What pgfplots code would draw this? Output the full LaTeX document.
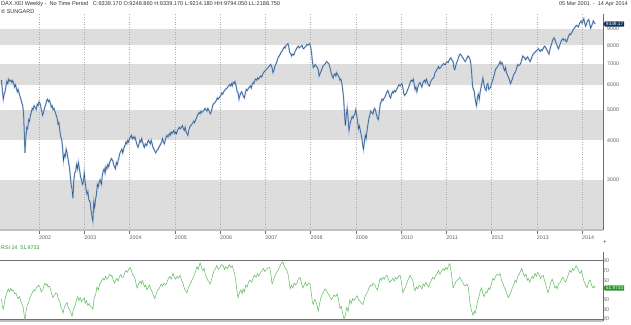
\documentclass[border=0pt]{standalone}
\usepackage{pgfplots}
\pgfplotsset{compat=1.18}
\usepackage{pgfplotstable}
\usepackage{fontspec}
\setmainfont{Liberation Sans}
\usetikzlibrary{shapes.symbols}
\definecolor{band}{RGB}{221,221,221}
\definecolor{pblue}{RGB}{38,82,138}
\definecolor{pblue2}{RGB}{150,178,210}
\definecolor{rsigreen}{RGB}{95,185,95}
\definecolor{axgray}{RGB}{110,110,110}
\definecolor{bargray}{RGB}{192,192,192}
\definecolor{navy}{RGB}{15,50,95}
\definecolor{boxgreen}{RGB}{40,150,40}
\definecolor{lblgray}{RGB}{95,95,95}
\pgfplotstableread{
x y
2001.17 6200
2001.19 5800
2001.21 5400
2001.23 5600
2001.25 5700
2001.27 5950
2001.29 6150
2001.31 6050
2001.33 6250
2001.36 6150
2001.38 6200
2001.40 6100
2001.42 6180
2001.44 6050
2001.46 5900
2001.48 6000
2001.50 5850
2001.52 5700
2001.54 5800
2001.56 5650
2001.58 5500
2001.60 5400
2001.62 5250
2001.64 5150
2001.66 4850
2001.69 3650
2001.71 4100
2001.73 4400
2001.75 4350
2001.77 4650
2001.79 4600
2001.81 4800
2001.83 4900
2001.85 5050
2001.87 5000
2001.89 5150
2001.91 5100
2001.94 5000
2001.96 5200
2001.98 5150
2002.00 5300
2002.02 5250
2002.04 5100
2002.06 4950
2002.08 4800
2002.10 4900
2002.12 5050
2002.15 5200
2002.17 5350
2002.19 5400
2002.21 5300
2002.23 5350
2002.25 5250
2002.27 5100
2002.29 5150
2002.31 5000
2002.33 5050
2002.35 4950
2002.38 4800
2002.40 4700
2002.42 4500
2002.44 4550
2002.46 4300
2002.48 4100
2002.50 4050
2002.52 3800
2002.54 3450
2002.56 3600
2002.58 3550
2002.60 3750
2002.62 3650
2002.64 3500
2002.67 3300
2002.69 3100
2002.71 2900
2002.73 2800
2002.75 2620
2002.77 3000
2002.79 3150
2002.81 3200
2002.83 3350
2002.85 3250
2002.87 3400
2002.90 3200
2002.92 3050
2002.94 3000
2002.96 2900
2002.98 2950
2003.00 3150
2003.02 2950
2003.04 2800
2003.06 2700
2003.08 2750
2003.10 2600
2003.13 2550
2003.15 2400
2003.17 2300
2003.19 2220
2003.21 2550
2003.23 2450
2003.25 2600
2003.27 2700
2003.29 2900
2003.31 2850
2003.33 2950
2003.35 3000
2003.38 2900
2003.40 3100
2003.42 3200
2003.44 3250
2003.46 3150
2003.48 3300
2003.50 3250
2003.52 3350
2003.54 3300
2003.56 3400
2003.58 3450
2003.60 3500
2003.63 3450
2003.65 3350
2003.67 3300
2003.69 3250
2003.71 3400
2003.73 3350
2003.75 3450
2003.77 3550
2003.79 3650
2003.81 3700
2003.83 3750
2003.85 3650
2003.88 3800
2003.90 3850
2003.92 3950
2003.94 3900
2003.96 4000
2003.98 3950
2004.00 4050
2004.02 4100
2004.04 4150
2004.06 4050
2004.08 4100
2004.10 4050
2004.12 4100
2004.15 3950
2004.17 3850
2004.19 3800
2004.21 3900
2004.23 4000
2004.25 3950
2004.27 4050
2004.29 3950
2004.31 3850
2004.33 3800
2004.35 3900
2004.38 3850
2004.40 3950
2004.42 4000
2004.44 3950
2004.46 3900
2004.48 4000
2004.50 3900
2004.52 3800
2004.54 3750
2004.56 3700
2004.58 3650
2004.60 3700
2004.63 3750
2004.65 3800
2004.67 3850
2004.69 3900
2004.71 3950
2004.73 4050
2004.75 3950
2004.77 3900
2004.79 4000
2004.81 4100
2004.83 4150
2004.85 4100
2004.88 4200
2004.90 4150
2004.92 4250
2004.94 4200
2004.96 4250
2004.98 4300
2005.00 4200
2005.02 4250
2005.04 4200
2005.06 4300
2005.08 4350
2005.10 4400
2005.12 4350
2005.15 4400
2005.17 4450
2005.19 4350
2005.21 4300
2005.23 4400
2005.25 4250
2005.27 4200
2005.29 4150
2005.31 4300
2005.33 4400
2005.35 4450
2005.38 4500
2005.40 4550
2005.42 4600
2005.44 4550
2005.46 4650
2005.48 4700
2005.50 4800
2005.52 4850
2005.54 4900
2005.56 4850
2005.58 4950
2005.60 4900
2005.63 4950
2005.65 5000
2005.67 5050
2005.69 5000
2005.71 4950
2005.73 5050
2005.75 5000
2005.77 4900
2005.79 4850
2005.81 4950
2005.83 5100
2005.85 5200
2005.88 5250
2005.90 5300
2005.92 5350
2005.94 5450
2005.96 5400
2005.98 5450
2006.00 5500
2006.02 5550
2006.04 5650
2006.06 5600
2006.08 5700
2006.10 5750
2006.12 5800
2006.15 5850
2006.17 5900
2006.19 5950
2006.21 6000
2006.23 5950
2006.25 6050
2006.27 5950
2006.29 6100
2006.31 6050
2006.33 6150
2006.35 6000
2006.38 5700
2006.40 5650
2006.42 5400
2006.44 5550
2006.46 5650
2006.48 5700
2006.50 5600
2006.52 5500
2006.54 5450
2006.56 5650
2006.58 5800
2006.60 5750
2006.63 5850
2006.65 5900
2006.67 5950
2006.69 5850
2006.71 6000
2006.73 6100
2006.75 6050
2006.77 6200
2006.79 6250
2006.81 6200
2006.83 6300
2006.85 6250
2006.88 6350
2006.90 6400
2006.92 6350
2006.94 6450
2006.96 6550
2006.98 6600
2007.00 6650
2007.02 6700
2007.04 6750
2007.06 6800
2007.08 6850
2007.10 6900
2007.12 6950
2007.15 6800
2007.17 6550
2007.19 6650
2007.21 6850
2007.23 6950
2007.25 7050
2007.27 7200
2007.29 7350
2007.31 7400
2007.33 7500
2007.35 7600
2007.38 7700
2007.40 7800
2007.42 7900
2007.44 7850
2007.46 8000
2007.48 8050
2007.50 8100
2007.52 7900
2007.54 7600
2007.56 7550
2007.58 7400
2007.60 7500
2007.63 7450
2007.65 7600
2007.67 7700
2007.69 7800
2007.71 7900
2007.73 7950
2007.75 7850
2007.77 7900
2007.79 7950
2007.81 8000
2007.83 7850
2007.85 7800
2007.88 7900
2007.90 7950
2007.92 8050
2007.94 8000
2007.96 8050
2007.98 8100
2008.00 7950
2008.02 7650
2008.04 7150
2008.06 6800
2008.08 6850
2008.10 6950
2008.12 6900
2008.15 6800
2008.17 6700
2008.19 6400
2008.21 6500
2008.23 6600
2008.25 6700
2008.27 6850
2008.29 6900
2008.31 6950
2008.33 7000
2008.35 7100
2008.38 7050
2008.40 7000
2008.42 6900
2008.44 6700
2008.46 6500
2008.48 6400
2008.50 6300
2008.52 6450
2008.54 6500
2008.56 6400
2008.58 6550
2008.60 6450
2008.63 6350
2008.65 6200
2008.67 6250
2008.69 6100
2008.71 5800
2008.73 5500
2008.75 4900
2008.77 4450
2008.79 4800
2008.81 5050
2008.83 4700
2008.85 4300
2008.88 4550
2008.90 4650
2008.92 4750
2008.94 4700
2008.96 4800
2008.98 4850
2009.00 5000
2009.02 4800
2009.04 4600
2009.06 4350
2009.08 4450
2009.10 4300
2009.13 4100
2009.15 3900
2009.17 3750
2009.19 3950
2009.21 4150
2009.23 4050
2009.25 4300
2009.27 4500
2009.29 4700
2009.31 4800
2009.33 4950
2009.35 4900
2009.38 4850
2009.40 5000
2009.42 5050
2009.44 4950
2009.46 4800
2009.48 4700
2009.50 4650
2009.52 4900
2009.54 5200
2009.56 5300
2009.58 5400
2009.60 5350
2009.63 5450
2009.65 5500
2009.67 5600
2009.69 5700
2009.71 5750
2009.73 5650
2009.75 5500
2009.77 5450
2009.79 5600
2009.81 5700
2009.83 5650
2009.85 5750
2009.88 5700
2009.90 5800
2009.92 5850
2009.94 5950
2009.96 6000
2009.98 5950
2010.00 6000
2010.02 6050
2010.04 5900
2010.06 5650
2010.08 5550
2010.10 5600
2010.12 5650
2010.15 5800
2010.17 5900
2010.19 6000
2010.21 6150
2010.23 6200
2010.25 6150
2010.27 6250
2010.29 6050
2010.31 5800
2010.33 5900
2010.35 5700
2010.38 5950
2010.40 6050
2010.42 6100
2010.44 6000
2010.46 5900
2010.48 6050
2010.50 6150
2010.52 6200
2010.54 6100
2010.56 6250
2010.58 6150
2010.60 6000
2010.63 5950
2010.65 6100
2010.67 6200
2010.69 6250
2010.71 6300
2010.73 6350
2010.75 6550
2010.77 6600
2010.79 6700
2010.81 6750
2010.83 6850
2010.85 6750
2010.88 6800
2010.90 6900
2010.92 6950
2010.94 7000
2010.96 6950
2010.98 6950
2011.00 7050
2011.02 7100
2011.04 7050
2011.06 7150
2011.08 7250
2011.10 7300
2011.12 7200
2011.15 7100
2011.17 6750
2011.19 6700
2011.21 6900
2011.23 7050
2011.25 7150
2011.27 7300
2011.29 7450
2011.31 7500
2011.33 7450
2011.35 7350
2011.38 7250
2011.40 7150
2011.42 7100
2011.44 7200
2011.46 7300
2011.48 7400
2011.50 7350
2011.52 7250
2011.54 7050
2011.56 6600
2011.58 5950
2011.60 5800
2011.62 5700
2011.63 5500
2011.65 5300
2011.67 5150
2011.69 5500
2011.71 5600
2011.73 5400
2011.75 5700
2011.77 5900
2011.79 6100
2011.81 6300
2011.83 6050
2011.85 5850
2011.88 5750
2011.90 6000
2011.92 6050
2011.94 5800
2011.96 5850
2011.98 5900
2012.00 6050
2012.02 6150
2012.04 6300
2012.06 6450
2012.08 6650
2012.10 6750
2012.12 6800
2012.15 6900
2012.17 7000
2012.19 7100
2012.21 6950
2012.23 7050
2012.25 6950
2012.27 6750
2012.29 6650
2012.31 6800
2012.33 6550
2012.35 6450
2012.38 6300
2012.40 6200
2012.42 6050
2012.44 6150
2012.46 6250
2012.48 6400
2012.50 6500
2012.52 6550
2012.54 6650
2012.56 6800
2012.58 6950
2012.60 6900
2012.63 6950
2012.65 7050
2012.67 7200
2012.69 7400
2012.71 7350
2012.73 7300
2012.75 7200
2012.77 7250
2012.79 7350
2012.81 7300
2012.83 7200
2012.85 7100
2012.88 7250
2012.90 7400
2012.92 7500
2012.94 7550
2012.96 7600
2012.98 7650
2013.00 7700
2013.02 7750
2013.04 7800
2013.06 7700
2013.08 7650
2013.10 7750
2013.12 7700
2013.15 7850
2013.17 7950
2013.19 7900
2013.21 7800
2013.23 7700
2013.25 7600
2013.27 7500
2013.29 7750
2013.31 7950
2013.33 8100
2013.35 8300
2013.38 8450
2013.40 8350
2013.42 8200
2013.44 8050
2013.46 7900
2013.48 7800
2013.50 7950
2013.52 8100
2013.54 8250
2013.56 8350
2013.58 8400
2013.60 8300
2013.63 8350
2013.65 8200
2013.67 8250
2013.69 8450
2013.71 8600
2013.73 8700
2013.75 8650
2013.77 8750
2013.79 8850
2013.81 9000
2013.83 9050
2013.85 9150
2013.88 9250
2013.90 9200
2013.92 9150
2013.94 9350
2013.96 9450
2013.98 9550
2014.00 9400
2014.02 9550
2014.04 9700
2014.06 9400
2014.08 9200
2014.10 9350
2014.12 9550
2014.15 9650
2014.17 9350
2014.19 9050
2014.21 9200
2014.23 9350
2014.25 9550
2014.27 9450
2014.29 9339
}\daxdata
\pgfplotstableread{
x y
2001.17 41
2001.19 33
2001.21 30
2001.24 38
2001.27 44
2001.29 47
2001.32 51
2001.35 48
2001.38 52
2001.40 49
2001.43 50
2001.46 46
2001.49 47
2001.51 44
2001.54 41
2001.57 43
2001.60 38
2001.62 36
2001.65 32
2001.67 25
2001.69 18
2001.71 27
2001.74 34
2001.77 37
2001.80 42
2001.83 45
2001.85 47
2001.88 50
2001.91 49
2001.94 52
2001.96 53
2001.99 55
2002.02 53
2002.05 48
2002.08 50
2002.11 54
2002.13 57
2002.16 55
2002.18 56
2002.20 53
2002.23 54
2002.26 50
2002.28 46
2002.31 42
2002.34 45
2002.37 47
2002.40 46
2002.43 40
2002.46 38
2002.48 33
2002.51 30
2002.53 26
2002.56 32
2002.59 35
2002.62 37
2002.64 33
2002.67 30
2002.70 27
2002.73 23
2002.75 28
2002.78 32
2002.80 34
2002.83 40
2002.86 43
2002.88 39
2002.91 42
2002.94 38
2002.97 40
2003.00 42
2003.02 36
2003.05 39
2003.08 34
2003.11 36
2003.14 33
2003.17 32
2003.19 30
2003.22 42
2003.25 45
2003.28 53
2003.31 50
2003.34 56
2003.37 58
2003.41 62
2003.44 60
2003.47 64
2003.50 61
2003.53 63
2003.56 66
2003.59 64
2003.61 65
2003.64 60
2003.67 57
2003.70 60
2003.72 62
2003.75 59
2003.78 64
2003.81 66
2003.83 63
2003.86 63
2003.89 67
2003.92 70
2003.95 68
2003.98 71
2004.01 73
2004.04 70
2004.07 66
2004.10 64
2004.13 60
2004.15 55
2004.17 52
2004.20 56
2004.23 59
2004.26 56
2004.28 60
2004.30 58
2004.33 53
2004.36 55
2004.38 50
2004.41 52
2004.44 55
2004.47 51
2004.50 48
2004.53 44
2004.56 41
2004.59 46
2004.62 50
2004.65 51
2004.67 53
2004.70 56
2004.73 54
2004.76 57
2004.80 55
2004.83 58
2004.86 62
2004.89 64
2004.92 61
2004.96 67
2004.99 63
2005.02 61
2005.05 64
2005.08 62
2005.12 65
2005.15 60
2005.18 57
2005.21 52
2005.24 49
2005.27 47
2005.30 52
2005.33 55
2005.36 58
2005.38 60
2005.42 64
2005.45 68
2005.49 74
2005.52 71
2005.56 78
2005.59 73
2005.62 70
2005.65 72
2005.67 67
2005.70 63
2005.73 60
2005.76 58
2005.78 56
2005.81 60
2005.84 66
2005.87 70
2005.90 72
2005.93 75
2005.96 71
2006.00 73
2006.03 76
2006.07 75
2006.10 71
2006.13 74
2006.17 72
2006.20 76
2006.24 73
2006.27 75
2006.30 70
2006.33 65
2006.36 55
2006.38 47
2006.40 42
2006.43 47
2006.46 50
2006.49 46
2006.51 51
2006.54 48
2006.57 55
2006.60 53
2006.63 58
2006.66 60
2006.70 58
2006.73 62
2006.76 65
2006.80 63
2006.83 67
2006.86 64
2006.90 68
2006.93 70
2006.96 72
2006.99 69
2007.03 71
2007.07 73
2007.10 73
2007.13 64
2007.15 56
2007.18 60
2007.21 64
2007.25 68
2007.28 70
2007.31 73
2007.34 76
2007.37 78
2007.39 79
2007.42 74
2007.45 72
2007.48 70
2007.50 67
2007.53 58
2007.55 51
2007.58 55
2007.61 52
2007.64 57
2007.67 55
2007.70 57
2007.73 61
2007.77 63
2007.80 57
2007.83 52
2007.86 55
2007.89 58
2007.92 54
2007.96 57
2007.99 56
2008.02 46
2008.04 38
2008.06 35
2008.09 40
2008.12 38
2008.15 33
2008.17 28
2008.20 36
2008.23 42
2008.26 45
2008.29 48
2008.32 51
2008.35 49
2008.39 46
2008.42 44
2008.46 40
2008.49 42
2008.52 45
2008.56 43
2008.59 46
2008.62 40
2008.65 31
2008.68 33
2008.71 26
2008.74 20
2008.77 24
2008.80 32
2008.83 28
2008.87 40
2008.90 36
2008.93 41
2008.96 39
2009.00 42
2009.03 44
2009.06 40
2009.10 38
2009.13 36
2009.16 35
2009.19 41
2009.22 45
2009.25 47
2009.27 49
2009.30 53
2009.33 55
2009.36 54
2009.38 57
2009.42 55
2009.45 52
2009.48 50
2009.51 56
2009.54 62
2009.57 60
2009.60 63
2009.63 61
2009.66 64
2009.69 65
2009.72 61
2009.75 58
2009.79 60
2009.82 62
2009.85 59
2009.88 63
2009.91 61
2009.95 64
2009.98 65
2010.01 58
2010.04 47
2010.07 50
2010.10 53
2010.13 57
2010.16 61
2010.20 65
2010.23 62
2010.26 60
2010.28 54
2010.31 49
2010.34 53
2010.37 51
2010.40 55
2010.42 54
2010.46 51
2010.49 56
2010.52 54
2010.55 58
2010.58 55
2010.61 53
2010.64 57
2010.67 60
2010.70 63
2010.73 61
2010.77 65
2010.80 67
2010.83 70
2010.86 66
2010.89 69
2010.93 72
2010.96 70
2010.99 73
2011.02 71
2011.05 75
2011.08 77
2011.11 68
2011.13 60
2011.15 52
2011.18 55
2011.21 58
2011.24 60
2011.27 61
2011.30 63
2011.33 60
2011.36 58
2011.39 55
2011.42 54
2011.46 56
2011.49 52
2011.52 38
2011.55 30
2011.59 24
2011.62 28
2011.64 26
2011.67 33
2011.70 40
2011.73 44
2011.75 49
2011.78 52
2011.81 46
2011.84 43
2011.87 48
2011.90 47
2011.93 52
2011.96 50
2011.99 55
2012.03 62
2012.06 60
2012.09 64
2012.12 66
2012.16 65
2012.19 67
2012.22 60
2012.25 57
2012.28 53
2012.31 50
2012.34 46
2012.37 42
2012.40 45
2012.43 48
2012.46 52
2012.49 55
2012.52 60
2012.55 58
2012.58 64
2012.61 66
2012.64 69
2012.67 72
2012.70 67
2012.73 64
2012.76 66
2012.79 60
2012.81 62
2012.84 58
2012.87 61
2012.90 64
2012.93 62
2012.96 67
2012.99 64
2013.02 68
2013.05 66
2013.08 62
2013.11 64
2013.14 65
2013.17 60
2013.20 55
2013.23 50
2013.25 47
2013.28 52
2013.31 58
2013.34 61
2013.37 57
2013.40 52
2013.43 54
2013.45 51
2013.48 56
2013.52 58
2013.55 61
2013.58 63
2013.61 60
2013.64 58
2013.67 62
2013.70 66
2013.73 70
2013.76 68
2013.79 72
2013.82 70
2013.85 73
2013.87 75
2013.90 72
2013.93 69
2013.96 67
2013.99 70
2014.02 63
2014.05 58
2014.08 55
2014.11 52
2014.14 57
2014.16 60
2014.18 60
2014.21 55
2014.24 52
2014.27 54
2014.29 52
}\rsidata
\newcommand{\tinyf}{\fontsize{5.3}{6}\selectfont}
\begin{document}
\begin{tikzpicture}
\path[use as bounding box] (0pt,0pt) rectangle (631pt,324pt);
\begin{axis}[
  at={(0pt,310pt)}, anchor=north west, scale only axis,
  width=603pt, height=216pt,
  xmin=2001.138, xmax=2014.464,
  ymode=log, ymin=2080, ymax=10050,
  clip mode=individual,
  axis line style={draw=none},
  xtick={2002,2003,2004,2005,2006,2007,2008,2009,2010,2011,2012,2013,2014},
  xticklabels={2002,2003,2004,2005,2006,2007,2008,2009,2010,2011,2012,2013,2014},
  xtick pos=bottom, tick align=outside,
  major tick length=4pt,
  x tick style={axgray, line width=0.5pt},
  ytick={3000,4000,5000,6000,7000,8000,9000},
  yticklabels={3000,4000,5000,6000,7000,8000,9000},
  yticklabel pos=right,
  y tick style={draw=none},
  minor ytick={},
  xticklabel style={anchor=north west, inner sep=0pt, xshift=0pt, yshift=-2pt, font=\tinyf, text=lblgray},
  yticklabel style={anchor=west, inner sep=0pt, xshift=0pt, font=\tinyf, text=lblgray},
]
\fill[band] (axis cs:2001.138,8000) rectangle (axis cs:2014.464,9000);
\fill[band] (axis cs:2001.138,6000) rectangle (axis cs:2014.464,7000);
\fill[band] (axis cs:2001.138,4000) rectangle (axis cs:2014.464,5000);
\fill[band] (axis cs:2001.138,2080) rectangle (axis cs:2014.464,3000);
\pgfplotsinvokeforeach{2002,2003,2004,2005,2006,2007,2008,2009,2010,2011,2012,2013,2014}{
  \draw[gray!65, dotted, line width=0.5pt] (axis cs:#1,2080) -- (axis cs:#1,10050);
}
\addplot[pblue2, line width=1.6pt, opacity=0.7] table[x=x,y=y] {\daxdata};
\addplot[pblue, line width=0.5pt] table[x=x,y=y] {\daxdata};
\draw[bargray, line width=2.5pt] (rel axis cs:0,0) -- (rel axis cs:1,0);
\draw[axgray, line width=0.8pt] (rel axis cs:1,0) -- (rel axis cs:1,1);
\coordinate (vbox) at (axis cs:2014.464,9339);
\end{axis}
\node[signal, signal to=west, signal pointer angle=110, fill=navy, text=white,
  font=\fontsize{4.8}{5}\selectfont, inner sep=0.9pt, anchor=west] at (vbox) {9339.17};
\begin{axis}[
  at={(0pt,3pt)}, anchor=south west, scale only axis,
  width=603pt, height=69pt,
  xmin=2001.138, xmax=2014.464,
  ymin=18, ymax=89,
  clip mode=individual,
  axis line style={draw=none},
  xtick=\empty,
  ytick={20,30,40,60,70,80},
  yticklabels={20,30,40,60,70,80},
  yticklabel pos=right,
  y tick style={draw=none},
  yticklabel style={anchor=west, inner sep=0pt, xshift=0pt, font=\tinyf, text=lblgray},
]
\draw[axgray, line width=0.7pt] (axis cs:2001.138,80) -- (axis cs:2014.464,80);
\draw[axgray, line width=0.7pt] (axis cs:2001.138,20) -- (axis cs:2014.464,20);
\addplot[rsigreen, line width=0.5pt] table[x=x,y=y] {\rsidata};
\draw[bargray, line width=2.5pt] (rel axis cs:0,0) -- (rel axis cs:1,0);
\draw[axgray, line width=0.8pt] (rel axis cs:1,0) -- (rel axis cs:1,1);
\coordinate (gbox) at (axis cs:2014.464,51.97);
\end{axis}
\node[signal, signal to=west, signal pointer angle=110, fill=boxgreen, text=white,
  font=\fontsize{4.8}{5}\selectfont, inner sep=0.9pt, anchor=west] at (gbox) {51.9733};
\node[anchor=west, inner sep=0pt, font=\fontsize{5.6}{6}\selectfont, text=black!80] at (1pt,320pt) {DAX.XEI Weekly -\ \ No Time Period\ \ \ C:9339.170 O:9248.860 H:9339.170 L:9214.180 HH:9794.050 LL:2188.750};
\node[anchor=west, inner sep=0pt, font=\fontsize{5.5}{6}\selectfont, text=black!80] at (1pt,312.5pt) {\textcopyright\ SUNGARD};
\node[anchor=east, inner sep=0pt, font=\fontsize{5.5}{6}\selectfont, text=black!80] at (628pt,320pt) {05 Mar 2001\ \ -\ \ 14 Apr 2014};
\node[anchor=west, inner sep=0pt, font=\fontsize{5.3}{6}\selectfont, text=boxgreen] at (1pt,76pt) {RSI 14\ \ 51.9733};
\node[inner sep=0pt, font=\fontsize{7}{7}\selectfont, text=axgray] at (605pt,81.5pt) {+};
\end{tikzpicture}
\end{document}
